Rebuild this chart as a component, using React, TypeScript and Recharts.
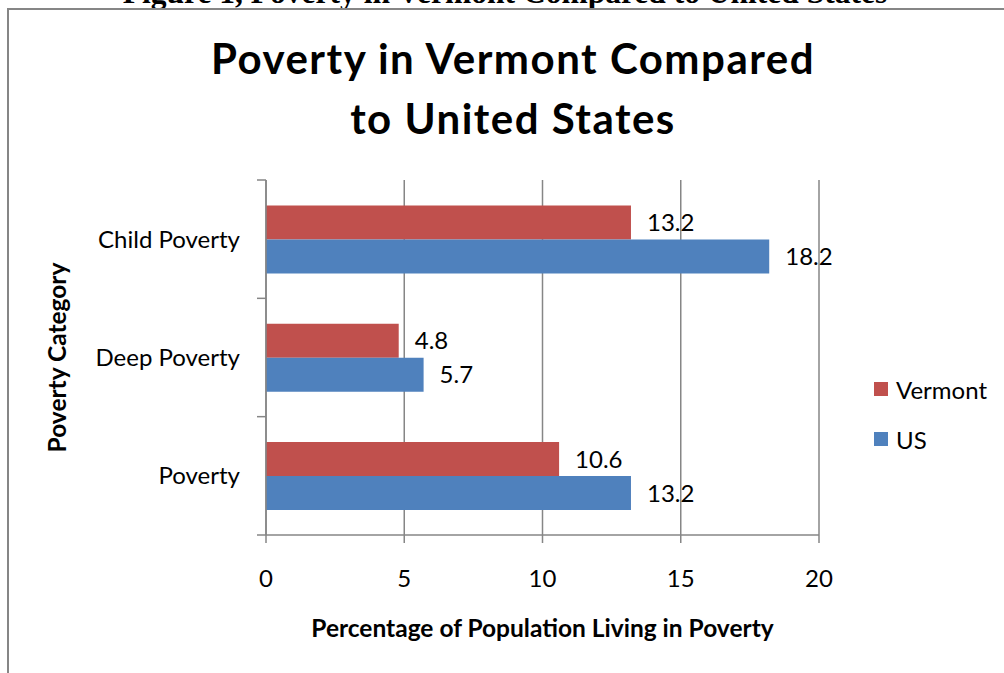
import { Bar, BarChart, CartesianGrid, Label, LabelList, Legend, XAxis, YAxis } from 'recharts';

// #region Chart data
const categories = ['Child Poverty', 'Deep Poverty', 'Poverty'];
const vermont = [13.2, 4.8, 10.6];
const us = [18.2, 5.7, 13.2];
const xTicks = [0, 5, 10, 15, 20];
const seriesOrder = ['Vermont', 'US'];
// #endregion

const data = categories.map((name, i) => ({ name, Vermont: vermont[i], US: us[i] }));

const FONT = 'Lato, "Open Sans", sans-serif';
const GRID = '#868686';

// category labels plus tick marks on the band edges (Excel style)
const CategoryTick = (props: any) => {
  const { x, y, payload, index } = props;
  const half = payload.offset ?? 59;
  return (
    <g>
      <line x1={x - 9} x2={x} y1={y - half} y2={y - half} stroke={GRID} strokeWidth={1.5} />
      {index === categories.length - 1 && (
        <line x1={x - 9} x2={x} y1={y + half} y2={y + half} stroke={GRID} strokeWidth={1.5} />
      )}
      <text x={x - 26} y={y} dy="0.35em" textAnchor="end" fill="#000" fontSize={24} fontFamily={FONT}>
        {payload.value}
      </text>
    </g>
  );
};

const LegendBox = ({ payload }: any) => {
  const items = [...(payload || [])].sort(
    (a: any, b: any) => seriesOrder.indexOf(a.value) - seriesOrder.indexOf(b.value)
  );
  return (
    <div style={{ fontFamily: FONT, fontSize: 24, color: '#000' }}>
      {items.map((p: any) => (
        <div key={p.value} style={{ display: 'flex', alignItems: 'center', height: 50 }}>
          <span style={{ width: 14, height: 14, background: p.color, marginRight: 8, display: 'inline-block' }} />
          <span>{p.value}</span>
        </div>
      ))}
    </div>
  );
};

const App = () => {
  return (
    <div style={{ position: 'absolute', left: 0, top: 0, width: 1004, height: 673, background: '#fff', overflow: 'hidden' }}>
      <svg width={1004} height={673} style={{ position: 'absolute', left: 0, top: 0 }}>
        <text x={505} y={3} textAnchor="middle" fontFamily='"Liberation Serif", "Times New Roman", serif' fontWeight={700} fontSize={31.5} fill="#000">
          Figure 1, Poverty in Vermont Compared to United States
        </text>
        <rect x={8} y={9} width={1100} height={800} fill="none" stroke={GRID} strokeWidth={2} />
        <text x={513} y={74} textAnchor="middle" fontFamily={FONT} fontWeight={700} fontSize={42} letterSpacing={1.5} fill="#000">
          Poverty in Vermont Compared
        </text>
        <text x={513} y={134} textAnchor="middle" fontFamily={FONT} fontWeight={700} fontSize={42} letterSpacing={1.5} fill="#000">
          to United States
        </text>
      </svg>
      <div style={{ position: 'absolute', left: 0, top: 0 }}>
        <BarChart
          width={1004}
          height={673}
          data={data}
          layout="vertical"
          margin={{ top: 180, right: 185, bottom: 0, left: 0 }}
          barCategoryGap="21.5%"
          barGap={0}
        >
          <CartesianGrid horizontal={false} stroke={GRID} strokeWidth={1.5} />
          <XAxis
            type="number"
            domain={[0, 20]}
            ticks={xTicks}
            height={138}
            tickSize={8}
            tickMargin={27}
            axisLine={{ stroke: GRID, strokeWidth: 1.5 }}
            tickLine={{ stroke: GRID, strokeWidth: 1.5 }}
            tick={{ fill: '#000', fontSize: 24, fontFamily: FONT }}
          >
            <Label
              value="Percentage of Population Living in Poverty"
              position="insideBottom"
              offset={36}
              style={{ fontFamily: FONT, fontSize: 24.5, fontWeight: 700, fill: '#000' }}
            />
          </XAxis>
          <YAxis
            type="category"
            dataKey="name"
            width={266}
            tickLine={false}
            tickSize={0}
            tickMargin={0}
            axisLine={{ stroke: GRID, strokeWidth: 1.5 }}
            tick={<CategoryTick />}
          >
            <Label
              value="Poverty Category"
              angle={-90}
              position="insideLeft"
              offset={57}
              style={{ textAnchor: 'middle', fontFamily: FONT, fontSize: 24.5, fontWeight: 700, fill: '#000' }}
            />
          </YAxis>
          <Legend
            layout="horizontal"
            align="center"
            verticalAlign="middle"
            content={<LegendBox />}
            wrapperStyle={{ left: 874, top: 364, width: 130, height: 100 }}
          />
          <Bar dataKey="Vermont" fill="#C0504D" isAnimationActive={false}>
            <LabelList dataKey="Vermont" position="right" offset={16} fill="#000" fontSize={24} fontFamily={FONT} />
          </Bar>
          <Bar dataKey="US" fill="#4F81BD" isAnimationActive={false}>
            <LabelList dataKey="US" position="right" offset={16} fill="#000" fontSize={24} fontFamily={FONT} />
          </Bar>
        </BarChart>
      </div>
    </div>
  );
};

export default App;
